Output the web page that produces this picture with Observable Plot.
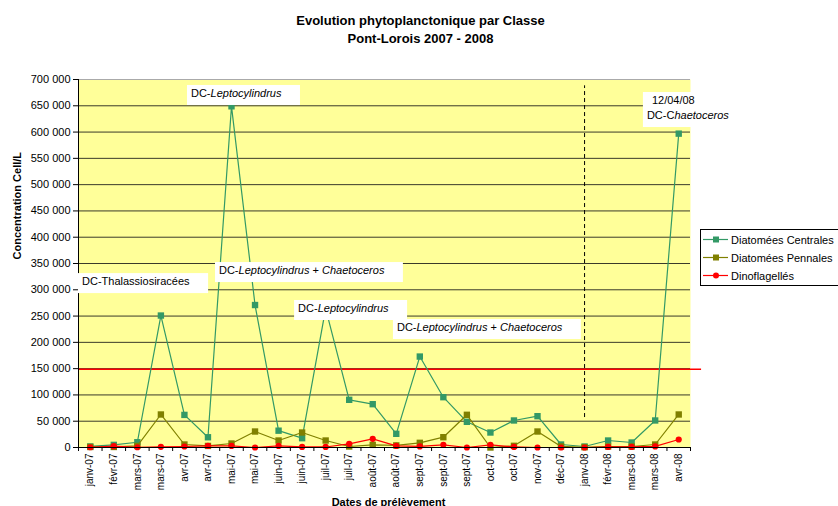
<!DOCTYPE html>
<html><head><meta charset="utf-8">
<script src="https://cdn.jsdelivr.net/npm/d3@7"></script>
<script src="https://cdn.jsdelivr.net/npm/@observablehq/plot@0.6"></script>
<style>body{margin:0;background:#fff;font-family:"Liberation Sans",Arial,sans-serif}</style>
</head><body><div id="chart"></div>
<script>
const dates = ["janv-07","févr-07","mars-07","mars-07","avr-07","avr-07","mai-07","mai-07","juin-07","juin-07","juil-07","juil-07","août-07","août-07","sept-07","sept-07","sept-07","oct-07","oct-07","nov-07","déc-07","janv-08","févr-08","mars-08","mars-08","avr-08"];
const centrales = [2000,5000,10000,251000,62000,19500,649000,271000,32000,17700,264000,90700,82400,26000,173000,95700,48900,28500,51400,59600,5700,1900,13300,9500,51400,597000];
const pennales = [1000,1000,3000,62800,5700,3000,7600,30400,13300,28500,13300,1900,5000,4000,8900,19600,62200,0,3200,30400,2000,500,1900,1900,5700,62800];
const dinos = [500,2500,500,1300,1900,3000,3000,0,3000,1000,1000,7000,16500,3000,2000,5000,0,5000,1000,0,0,0,1000,1000,2000,15200];
const seriesNames = ["Diatomées Centrales","Diatomées Pennales","Dinoflagellés"];
const seriesColors = ["#339966","#808000","#ff0000"];
const yTicks = d3.range(0, 700001, 50000);
const title = ["Evolution phytoplanctonique par Classe","Pont-Lorois 2007 - 2008"];
const yLabel = "Concentration Cell/L";
const xLabel = "Dates de prélèvement";
const threshold = 150000;
const campaignBreak = 21; // janv-08
const annotations = [
  {x:-0.33, y:308000, lines:[{dx:0, parts:[["DC-Thalassiosiracées",false]]}]},
  {x:5.49, y:329000, lines:[{dx:0, parts:[["DC-",false],["Leptocylindrus",true],[" + ",false],["Chaetoceros",true]]}]},
  {x:8.85, y:256800, lines:[{dx:0, parts:[["DC-",false],["Leptocylindrus",true]]}]},
  {x:13.05, y:220600, lines:[{dx:0, parts:[["DC-",false],["Leptocylindrus",true],[" + ",false],["Chaetoceros",true]]}]},
  {x:4.30, y:665800, lines:[{dx:0, parts:[["DC-",false],["Leptocylindrus",true]]}]},
  {x:23.67, y:652400, lines:[{dx:5, parts:[["12/04/08",false]]},{dx:0, parts:[["DC-C",false],["haetoceros",true]]}]}
];

const idx = d3.range(dates.length);
const seriesValues = [centrales, pennales, dinos];
const rows = seriesValues.map(vals => idx.map(i => ({i, v: vals[i]})));
const fmt = d => d3.format(",")(d).replace(/,/g, " ");
const boundaries = d3.range(-0.5, dates.length, 1);

const chart = Plot.plot({
  width: 838, height: 506,
  marginLeft: 78, marginRight: 148, marginTop: 79, marginBottom: 59,
  style: {fontFamily: '"Liberation Sans", Arial, sans-serif', fontSize: "11px", background: "white", color: "black", overflow: "visible"},
  x: {type: "linear", domain: [-0.5, dates.length - 0.5], axis: null},
  y: {domain: [0, 700000], axis: null},
  marks: [
    Plot.frame({fill: "#ffff99", stroke: null}),
    Plot.ruleY(yTicks.filter(v => v > 0 && v < 700000), {stroke: "#3a3a2a", strokeWidth: 1}),
    Plot.ruleY([700000], {stroke: "#aaaaaa"}),
    Plot.ruleY([{y: threshold, x1: -0.5, x2: dates.length - 0.03}], {y: "y", x1: "x1", x2: "x2", stroke: "#ff0000", strokeWidth: 1.5, dy: 0.5}),
    Plot.ruleX([{x: campaignBreak, y1: 57000, y2: 688000}], {x: "x", y1: "y1", y2: "y2", stroke: "#000", strokeDasharray: "4,3", strokeWidth: 1}),
    ...rows.flatMap((r, k) => [
      Plot.line(r, {x: "i", y: "v", stroke: seriesColors[k], strokeWidth: 1.2}),
      Plot.dot(r, {x: "i", y: "v", fill: seriesColors[k], stroke: null, symbol: k < 2 ? "square" : "circle", r: k < 2 ? 3.6 : 3.1})
    ]),
    Plot.ruleX([-0.5], {stroke: "#000"}),
    Plot.ruleY([0], {stroke: "#000"}),
    Plot.axisY(yTicks, {tickSize: 5, tickPadding: 3, fontSize: 11, tickFormat: fmt, label: null}),
    Plot.axisX(boundaries, {tickSize: 4, tickFormat: () => "", label: null}),
    Plot.text(idx, {x: d => d, y: 0, text: d => dates[d], rotate: -90, textAnchor: "end", dy: 6, fontSize: 10}),
    Plot.text([yLabel], {frameAnchor: "left", dx: -61, dy: -4, rotate: -90, fontWeight: "bold", fontSize: 11}),
    Plot.text([xLabel], {frameAnchor: "bottom", dx: 4, dy: 58, lineAnchor: "bottom", fontWeight: "bold", fontSize: 11}),
    Plot.text([title[0]], {frameAnchor: "top", dx: 36, dy: -55, lineAnchor: "bottom", fontWeight: "bold", fontSize: 13}),
    Plot.text([title[1]], {frameAnchor: "top", dx: 36, dy: -37, lineAnchor: "bottom", fontWeight: "bold", fontSize: 13})
  ]
});
document.getElementById("chart").appendChild(chart);

const svg = d3.select(chart);
const sx = chart.scale("x"), sy = chart.scale("y");
annotations.forEach(a => {
  const g = svg.append("g").attr("font-size", 11).attr("fill", "#000").attr("text-anchor", "start");
  const rect = g.append("rect").attr("fill", "white");
  const x0 = sx.apply(a.x), y0 = sy.apply(a.y);
  a.lines.forEach((line, k) => {
    const t = g.append("text").attr("x", x0 + line.dx).attr("y", y0 + k * 15).attr("text-anchor", "start");
    line.parts.forEach(([s, it]) => t.append("tspan").text(s).attr("font-style", it ? "italic" : null));
  });
  const bb = g.node().getBBox();
  const n = a.lines.length;
  rect.attr("x", x0 - 4).attr("y", y0 - 12)
      .attr("width", bb.x + bb.width - x0 + 22)
      .attr("height", 20 + (n - 1) * 15);
});

// legend
const lg = svg.append("g").attr("font-size", 11).attr("text-anchor", "start");
lg.append("rect").attr("x", 700.5).attr("y", 229.5).attr("width", 200).attr("height", 56).attr("fill", "white").attr("stroke", "#000");
seriesNames.forEach((name, k) => {
  const cy = 239.5 + k * 18;
  lg.append("line").attr("x1", 703).attr("x2", 728).attr("y1", cy).attr("y2", cy).attr("stroke", seriesColors[k]).attr("stroke-width", 1.2);
  if (k < 2) lg.append("rect").attr("x", 713).attr("y", cy - 3).attr("width", 6).attr("height", 6).attr("fill", seriesColors[k]);
  else lg.append("circle").attr("cx", 716).attr("cy", cy).attr("r", 3).attr("fill", seriesColors[k]);
  lg.append("text").attr("x", 731).attr("y", cy + 4).attr("text-anchor", "start").text(name);
});
</script></body></html>
